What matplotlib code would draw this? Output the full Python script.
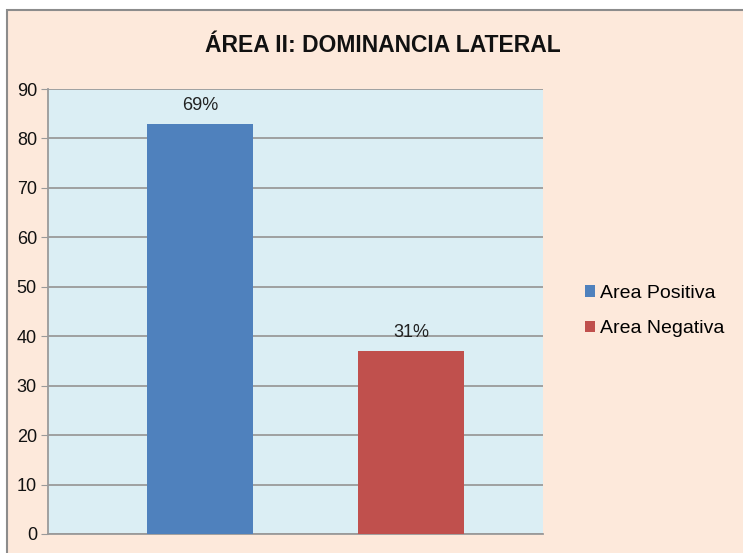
import matplotlib.pyplot as plt
from matplotlib.patches import Rectangle

series = ["Area Positiva", "Area Negativa"]
values = [83, 37]
labels = ["69%", "31%"]
colors = ["#4F81BD", "#C0504D"]
yticks = [0, 10, 20, 30, 40, 50, 60, 70, 80, 90]

plt.rcParams['font.family'] = ['Liberation Sans', 'DejaVu Sans']

fig = plt.figure(figsize=(7.43, 5.53), dpi=100)
fig.patch.set_facecolor("white")
# chart frame (cropped on the right and bottom)
fig.patches.append(Rectangle((7 / 743, -0.05), 1.0, 1 - 10 / 553 + 0.05,
                             transform=fig.transFigure, facecolor="#FDE9DB",
                             edgecolor="#8C8C8C", linewidth=1.5, zorder=-1))

ax = fig.add_axes([48 / 743, 1 - 534 / 553, 495 / 743, 445 / 553])
ax.set_facecolor("#DBEEF4")
for i, (s, v, c, lab) in enumerate(zip(series, values, colors, labels)):
    ax.bar(i, v, width=0.5, color=c, label=s, zorder=3)
    ax.text(i, v + 2.0, lab, ha="center", va="bottom", fontsize=13, color="#222222")

ax.set_xlim(-0.72, 1.625)
ax.set_ylim(0, 90)
ax.set_yticks(yticks)
ax.set_xticks([])
ax.yaxis.grid(True, color="#9A9A9A", linewidth=1.3, zorder=1)
ax.set_axisbelow(True)
for sp in ["top", "right"]:
    ax.spines[sp].set_visible(False)
ax.spines["left"].set_color("#9A9A9A")
ax.spines["bottom"].set_color("#9A9A9A")
ax.spines["left"].set_linewidth(1.3)
ax.spines["bottom"].set_linewidth(1.3)
ax.tick_params(axis="y", length=5, color="#9A9A9A", labelsize=13, pad=3, labelcolor="#111111")

fig.text(383 / 743, 1 - 46 / 553, "ÁREA II: DOMINANCIA LATERAL", ha="center", va="center",
         fontsize=16.5, fontweight="bold", color="#111111")

fig.legend(loc="center left", bbox_to_anchor=(577 / 743, 1 - 311 / 553), frameon=False,
           fontsize=14, handlelength=0.55, handleheight=0.55, handletextpad=0.25,
           labelspacing=0.95, borderaxespad=0)

fig.savefig("out.png", dpi=100, facecolor=fig.get_facecolor())
